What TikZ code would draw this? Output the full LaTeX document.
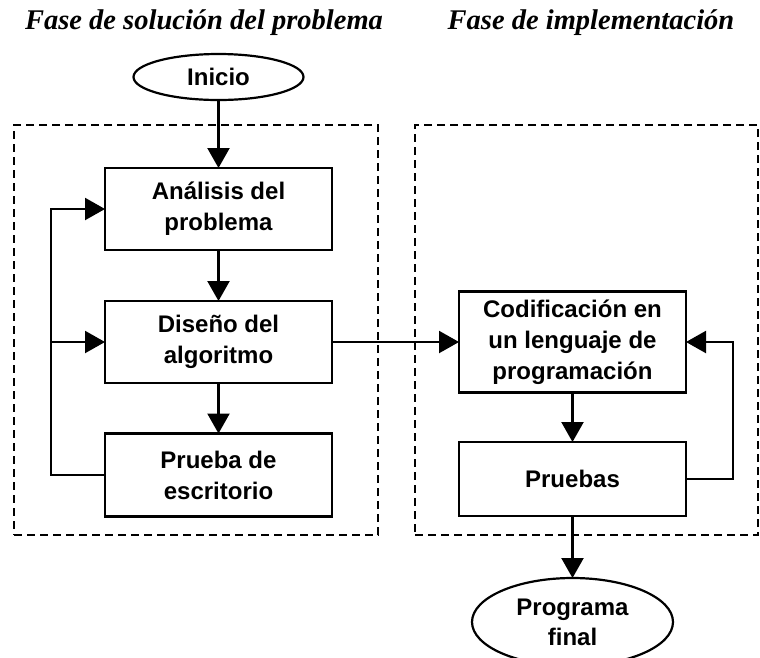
\documentclass[tikz,border=0pt]{standalone}
\usepackage{fontspec}
\setmainfont{Liberation Serif}
\newfontfamily\boxfont{Liberation Sans}
\usetikzlibrary{arrows.meta,shapes.geometric}
\begin{document}
\begin{tikzpicture}[x=1pt,y=-1pt,
  every node/.style={inner sep=0pt, outer sep=0pt},
  proc/.style={draw, line width=2.2pt, rectangle, align=center,
    minimum width=227pt, font=\boxfont\bfseries\fontsize{24}{31}\selectfont},
  term/.style={draw, line width=2.2pt, ellipse, align=center,
    font=\boxfont\bfseries\fontsize{24}{30}\selectfont},
  phase/.style={draw, line width=2.2pt, dash pattern=on 8pt off 5pt, rectangle},
  ttl/.style={font=\bfseries\itshape\fontsize{28.5}{32}\selectfont},
  arr/.style={line width=2.2pt, -{Triangle[length=20pt,width=22pt]}},
  ln/.style={line width=2.2pt}]
\useasboundingbox (0,0) rectangle (760,657);
\clip (0,0) rectangle (760,657);
\fill[white] (0,0) rectangle (760,657);
% titles
\node[ttl] (t1) at (204,23) {Fase de solución del problema};
\node[ttl] (t2) at (591,23) {Fase de implementación};
% phase frames
\node[phase, minimum width=364pt, minimum height=410pt] (lf) at (196,330) {};
\node[phase, minimum width=343pt, minimum height=410pt] (rf) at (586.5,330) {};
% nodes
\node[term, minimum width=170pt, minimum height=46pt] (ini) at (218.5,77) {Inicio};
\node[proc, minimum height=82pt] (ana) at (218.5,209) {Análisis del\\problema};
\node[proc, minimum height=82pt] (dis) at (218.5,342) {Diseño del\\algoritmo};
\node[proc, minimum height=83pt] (pru) at (218.5,475) {Prueba de\\escritorio};
\node[proc, minimum height=101pt] (cod) at (572.5,342) {Codificación en\\un lenguaje de\\programación};
\node[proc, minimum height=74pt] (pbs) at (572.5,479) {Pruebas};
\node[term, minimum width=201pt, minimum height=88pt] (fin) at (572.5,622) {Programa\\final};
% coordinates for loops
\coordinate (lx) at (51,0);
\coordinate (rx) at (733,0);
% connectors
\draw[arr] (ini) -- (ana);
\draw[arr] (ana) -- (dis);
\draw[arr] (dis) -- (pru);
\draw[arr] (pru.west) -| (lx |- ana.west) -- (ana.west);
\draw[arr] (lx |- dis.west) -- (dis.west);
\draw[arr] (dis.east) -- (cod.west);
\draw[arr] (cod) -- (pbs);
\draw[arr] (pbs.east) -| (rx |- cod.east) -- (cod.east);
\draw[arr] (pbs) -- (fin);
\end{tikzpicture}
\end{document}
